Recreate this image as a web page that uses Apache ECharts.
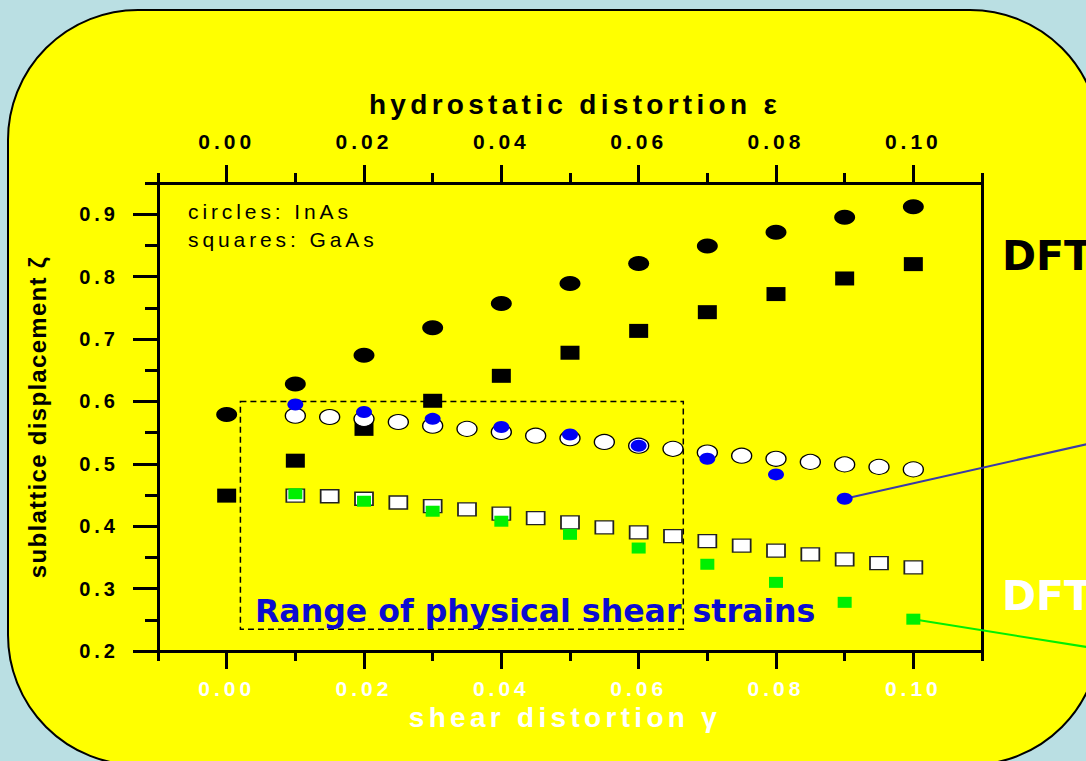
<!DOCTYPE html>
<html>
<head>
<meta charset="utf-8">
<script src="https://cdn.jsdelivr.net/npm/echarts@6/dist/echarts.min.js"></script>
<style>
html, body { margin: 0; padding: 0; background: #badfe3; }
#main { width: 1086px; height: 761px; }
</style>
</head>
<body>
<div id="main"></div>
<script>
// hydrostatic distortion (top axis)
var hydroX = [0, 0.01, 0.02, 0.03, 0.04, 0.05, 0.06, 0.07, 0.08, 0.09, 0.10];
var inasHydro = [0.579, 0.628, 0.674, 0.718, 0.757, 0.789, 0.821, 0.849, 0.871, 0.895, 0.912];
var gaasHydro = [0.449, 0.505, 0.556, 0.601, 0.641, 0.678, 0.713, 0.743, 0.772, 0.797, 0.820];

// shear distortion (bottom axis), model
var shearX = [0.010, 0.015, 0.020, 0.025, 0.030, 0.035, 0.040, 0.045, 0.050, 0.055,
              0.060, 0.065, 0.070, 0.075, 0.080, 0.085, 0.090, 0.095, 0.100];
var inasShear = [0.577, 0.575, 0.572, 0.567, 0.561, 0.556, 0.551, 0.545, 0.541, 0.535,
                 0.529, 0.524, 0.518, 0.513, 0.508, 0.503, 0.499, 0.495, 0.491];
var gaasShear = [0.449, 0.448, 0.444, 0.438, 0.432, 0.427, 0.420, 0.413, 0.406, 0.398,
                 0.390, 0.384, 0.376, 0.369, 0.361, 0.355, 0.347, 0.341, 0.334];

// shear distortion, DFT
var inasDftX = [0.01, 0.02, 0.03, 0.04, 0.05, 0.06, 0.07, 0.08, 0.09];
var inasDft = [0.595, 0.583, 0.572, 0.559, 0.547, 0.529, 0.508, 0.483, 0.444];
var gaasDftX = [0.01, 0.02, 0.03, 0.04, 0.05, 0.06, 0.07, 0.08, 0.09, 0.10];
var gaasDft = [0.452, 0.440, 0.424, 0.408, 0.387, 0.365, 0.339, 0.310, 0.278, 0.251];

// callout lines toward the DFT labels (data coords, run past the grid)
var blueCallout = [[0.09, 0.444], [0.1255, 0.532]];
var greenCallout = [[0.10, 0.251], [0.1255, 0.206]];

// dashed box: range of physical shear strains
var rangeX = [0.002, 0.0665];
var rangeY = [0.235, 0.600];

var xMajor = [0, 0.02, 0.04, 0.06, 0.08, 0.10];
var yMajor = [0.2, 0.3, 0.4, 0.5, 0.6, 0.7, 0.8, 0.9];

var xTopName = 'hydrostatic distortion ε';
var xBottomName = 'shear distortion γ';
var yName = 'sublattice displacement ζ';

function zip(xs, ys) {
    var out = [];
    for (var i = 0; i < xs.length; i++) {
        out.push([xs[i], ys[i]]);
    }
    return out;
}

var AX_FONT = 'Liberation Sans';
var DV_FONT = 'DejaVu Sans';

function minorXAxis(pos, color, name, margin, gap, namePad) {
    return {
        type: 'value', position: pos, min: -0.01, max: 0.11, interval: 0.01,
        axisLine: { onZero: false, lineStyle: { color: '#000', width: 3 } },
        axisTick: { length: 10, lineStyle: { color: '#000', width: 3 } },
        splitLine: { show: false },
        axisLabel: {
            customValues: xMajor,
            formatter: function (v) { return v.toFixed(2); },
            color: color, fontFamily: AX_FONT, fontWeight: 'bold', fontSize: 21, margin: margin
        },
        name: name, nameLocation: 'middle', nameGap: gap,
        nameTextStyle: { color: color, fontFamily: AX_FONT, fontWeight: 'bold', fontSize: 28, padding: namePad }
    };
}

function majorXAxis(pos) {
    return {
        type: 'value', position: pos, min: -0.01, max: 0.11, interval: 0.01,
        axisLine: { show: false, onZero: false },
        axisTick: { customValues: xMajor, length: 18, lineStyle: { color: '#000', width: 3 } },
        splitLine: { show: false },
        axisLabel: { show: false }
    };
}

var chart = echarts.init(document.getElementById('main'), null, { renderer: 'svg' });

var option = {
    backgroundColor: '#badfe3',
    animation: false,
    grid: { left: 158, right: 104, top: 183, bottom: 110 },
    xAxis: [
        minorXAxis('bottom', '#ffffff', xBottomName, 27, 51, [0, 10, 0, 0]),
        majorXAxis('bottom'),
        minorXAxis('top', '#000000', xTopName, 31, 65, [0, 0, 0, 10]),
        majorXAxis('top')
    ],
    yAxis: [
        {
            type: 'value', position: 'left', min: 0.2, max: 0.95, interval: 0.05,
            axisLine: { onZero: false, lineStyle: { color: '#000', width: 3 } },
            axisTick: { length: 13, lineStyle: { color: '#000', width: 3 } },
            splitLine: { show: false },
            axisLabel: {
                customValues: yMajor,
                formatter: function (v) { return v.toFixed(1); },
                color: '#000', fontFamily: AX_FONT, fontWeight: 'bold', fontSize: 20, margin: 39
            },
            name: yName, nameLocation: 'middle', nameGap: 109,
            nameTextStyle: { color: '#000', fontFamily: AX_FONT, fontWeight: 'bold', fontSize: 24 }
        },
        {
            type: 'value', position: 'left', min: 0.2, max: 0.95, interval: 0.05,
            axisLine: { show: false, onZero: false },
            axisTick: { customValues: yMajor, length: 25, lineStyle: { color: '#000', width: 3 } },
            splitLine: { show: false },
            axisLabel: { show: false }
        },
        {
            type: 'value', position: 'right', min: 0.2, max: 0.95, interval: 0.05,
            axisLine: { show: true, onZero: false, lineStyle: { color: '#000', width: 3 } },
            axisTick: { show: false },
            splitLine: { show: false },
            axisLabel: { show: false }
        }
    ],
    graphic: [
        {
            id: 'panel', type: 'rect', z: -10, silent: true,
            shape: { x: 8, y: 10, width: 1092, height: 755, r: 130 },
            style: { fill: '#ffff00', stroke: '#000', lineWidth: 2 }
        },
        {
            id: 'note1', type: 'text', z: 100, x: 188, y: 211,
            style: { text: 'circles: InAs', fill: '#000', font: '21px ' + AX_FONT, verticalAlign: 'middle' }
        },
        {
            id: 'note2', type: 'text', z: 100, x: 188, y: 239,
            style: { text: 'squares: GaAs', fill: '#000', font: '21px ' + AX_FONT, verticalAlign: 'middle' }
        },
        {
            id: 'range', type: 'text', z: 100, x: 255, y: 611,
            style: { text: 'Range of physical shear strains', fill: '#0c0cd0', font: 'bold 31.6px ' + DV_FONT, verticalAlign: 'middle' }
        },
        {
            id: 'dft1', type: 'text', z: 100, x: 1002, y: 256,
            style: { text: 'DFT', fill: '#000', font: 'bold 41px ' + DV_FONT, verticalAlign: 'middle' }
        },
        {
            id: 'dft2', type: 'text', z: 100, x: 1002, y: 596,
            style: { text: 'DFT', fill: '#ffffff', font: 'bold 41px ' + DV_FONT, verticalAlign: 'middle' }
        }
    ],
    series: [
        {
            type: 'scatter', xAxisIndex: 2, yAxisIndex: 0,
            symbol: 'circle', symbolSize: [21, 15],
            itemStyle: { color: '#000', opacity: 1 },
            data: zip(hydroX, inasHydro)
        },
        {
            type: 'scatter', xAxisIndex: 2, yAxisIndex: 0,
            symbol: 'rect', symbolSize: [19, 14],
            itemStyle: { color: '#000', opacity: 1 },
            data: zip(hydroX, gaasHydro)
        },
        {
            type: 'scatter', xAxisIndex: 0, yAxisIndex: 0,
            symbol: 'circle', symbolSize: [20, 15],
            itemStyle: { color: '#fff', borderColor: '#000', borderWidth: 1.2, opacity: 1 },
            data: zip(shearX, inasShear),
            markArea: {
                silent: true,
                itemStyle: { color: 'rgba(0,0,0,0)', borderColor: '#000', borderWidth: 1.5, borderType: [6, 4] },
                label: { show: false },
                data: [[{ coord: [rangeX[0], rangeY[1]] }, { coord: [rangeX[1], rangeY[0]] }]]
            }
        },
        {
            type: 'scatter', xAxisIndex: 0, yAxisIndex: 0,
            symbol: 'rect', symbolSize: [18, 13],
            itemStyle: { color: '#fff', borderColor: '#222', borderWidth: 1.5, opacity: 1 },
            data: zip(shearX, gaasShear)
        },
        {
            type: 'scatter', xAxisIndex: 0, yAxisIndex: 0,
            symbol: 'circle', symbolSize: [16, 12],
            itemStyle: { color: '#0000f5', opacity: 1 },
            data: zip(inasDftX, inasDft)
        },
        {
            type: 'scatter', xAxisIndex: 0, yAxisIndex: 0,
            symbol: 'rect', symbolSize: [14, 11],
            itemStyle: { color: '#00f000', opacity: 1 },
            data: zip(gaasDftX, gaasDft)
        }
    ]
};

chart.setOption(option);

// callouts leave the grid, so draw them as graphics placed through the axes
function toPixels(points) {
    return points.map(function (p) {
        return chart.convertToPixel({ xAxisIndex: 0, yAxisIndex: 0 }, p);
    });
}
chart.setOption({
    graphic: [
        {
            id: 'blueCallout', type: 'polyline', z: 1, silent: true,
            shape: { points: toPixels(blueCallout) },
            style: { stroke: '#3a3aa8', lineWidth: 2, fill: null }
        },
        {
            id: 'greenCallout', type: 'polyline', z: 1, silent: true,
            shape: { points: toPixels(greenCallout) },
            style: { stroke: '#00f000', lineWidth: 2, fill: null }
        }
    ]
});

// ECharts has no letter-spacing option, so space out the axis texts in the svg
function spaceLetters() {
    var texts = document.querySelectorAll('#main text');
    for (var i = 0; i < texts.length; i++) {
        var s = texts[i].textContent;
        var ls = null;
        if (/^0\.\d+$/.test(s)) ls = 4;
        else if (s === xTopName || s === xBottomName) ls = 4.3;
        else if (s === yName) ls = 1.3;
        else if (s === 'circles: InAs' || s === 'squares: GaAs') ls = 3.9;
        if (ls !== null) texts[i].setAttribute('letter-spacing', ls + 'px');
    }
}
chart.on('finished', spaceLetters);
spaceLetters();
setTimeout(spaceLetters, 100);
</script>
</body>
</html>
